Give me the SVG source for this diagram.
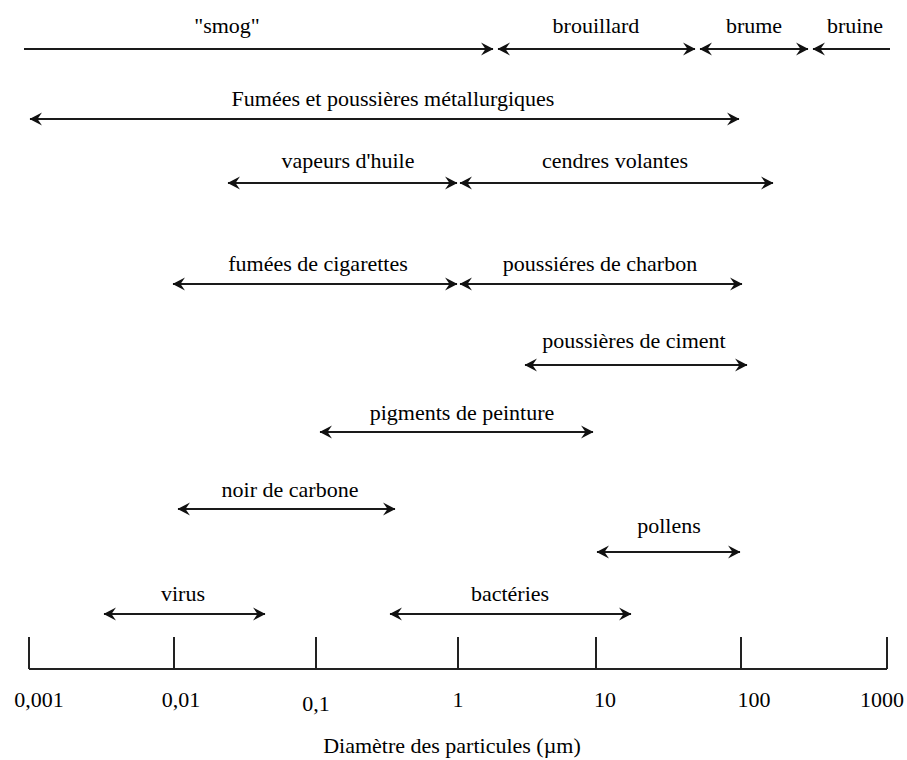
<svg xmlns="http://www.w3.org/2000/svg" width="907" height="760" viewBox="0 0 907 760">
<style>
text{font-family:"Liberation Serif","Times New Roman",serif;font-size:22px;fill:#000;text-anchor:middle}
.rng{stroke:#1a1a1a;stroke-width:2;fill:none}
.both{marker-start:url(#ah);marker-end:url(#ah)}
.end{marker-end:url(#ah)}
.start{marker-start:url(#ah)}
.axis{stroke:#222;stroke-width:2;fill:none}
</style>
<defs>
<marker id="ah" markerUnits="userSpaceOnUse" viewBox="-13 -8 14 16" refX="0" refY="0" markerWidth="14" markerHeight="16" orient="auto-start-reverse">
<path d="M0.5,0 L-12,-6.5 L-7.5,0 L-12,6.5 Z" fill="#111"/>
</marker>
</defs>
<rect width="907" height="760" fill="#fff"/>
<g id="connectors">
<line class="rng end" x1="24" y1="49" x2="493" y2="49"/>
<line class="rng both" x1="498" y1="49" x2="695" y2="49"/>
<line class="rng both" x1="700" y1="49" x2="808" y2="49"/>
<line class="rng start" x1="813" y1="49" x2="890" y2="49"/>
<line class="rng both" x1="30" y1="119" x2="739" y2="119"/>
<line class="rng both" x1="228" y1="183" x2="457" y2="183"/>
<line class="rng both" x1="460" y1="183" x2="773" y2="183"/>
<line class="rng both" x1="173" y1="284" x2="457" y2="284"/>
<line class="rng both" x1="460" y1="284" x2="742" y2="284"/>
<line class="rng both" x1="525" y1="365" x2="747" y2="365"/>
<line class="rng both" x1="320" y1="432" x2="593" y2="432"/>
<line class="rng both" x1="178" y1="509" x2="395" y2="509"/>
<line class="rng both" x1="597" y1="552" x2="740" y2="552"/>
<line class="rng both" x1="104" y1="614" x2="265" y2="614"/>
<line class="rng both" x1="390" y1="614" x2="631" y2="614"/>
</g>
<g id="smog"><text x="227" y="33">"smog"</text></g>
<g id="brouillard"><text x="596" y="33">brouillard</text></g>
<g id="brume"><text x="754" y="33">brume</text></g>
<g id="bruine"><text x="855" y="33">bruine</text></g>
<g id="fumees-metallurgiques"><text x="393" y="106">Fumées et poussières métallurgiques</text></g>
<g id="vapeurs-huile"><text x="348" y="168">vapeurs d'huile</text></g>
<g id="cendres-volantes"><text x="615" y="168">cendres volantes</text></g>
<g id="fumees-cigarettes"><text x="318" y="271">fumées de cigarettes</text></g>
<g id="poussieres-charbon"><text x="600" y="271">poussiéres de charbon</text></g>
<g id="poussieres-ciment"><text x="634" y="348">poussières de ciment</text></g>
<g id="pigments-peinture"><text x="462" y="420">pigments de peinture</text></g>
<g id="noir-carbone"><text x="290" y="497">noir de carbone</text></g>
<g id="pollens"><text x="669" y="533">pollens</text></g>
<g id="virus"><text x="183" y="601">virus</text></g>
<g id="bacteries"><text x="510" y="601">bactéries</text></g>
<g id="axis">
<path class="axis" d="M29,669 H887 M29,669 V637 M174,669 V637 M316,669 V637 M458,669 V637 M596,669 V637 M741,669 V637 M887,669 V637"/>
<text x="39" y="707">0,001</text>
<text x="181" y="707">0,01</text>
<text x="316" y="711">0,1</text>
<text x="458" y="707">1</text>
<text x="605" y="707">10</text>
<text x="754" y="707">100</text>
<text x="882" y="707">1000</text>
<text x="452" y="753">Diamètre des particules (µm)</text>
</g>
</svg>
